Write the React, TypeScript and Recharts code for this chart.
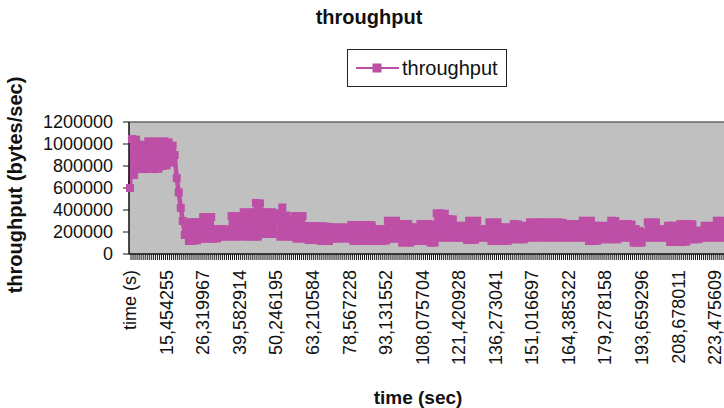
import React from 'react';
import { LineChart, Line, XAxis, YAxis, CartesianGrid, ReferenceLine } from 'recharts';

const TITLE = 'throughput';
const SERIES_NAME = 'throughput';
const X_TITLE = 'time (sec)';
const Y_TITLE = 'throughput (bytes/sec)';

// Labels shown on the category axis (Excel shows one label every 18 categories)
const LABEL_EVERY = 18;
const TICK_LABELS = [
  'time (s)', '15,454255', '26,319967', '39,582914', '50,246195', '63,210584',
  '78,567228', '93,131552', '108,075704', '121,420928', '136,273041', '151,016697',
  '164,385322', '179,278158', '193,659296', '208,678011', '223,475609',
];

const Y_TICKS = [0, 200000, 400000, 600000, 800000, 1000000, 1200000];

// throughput samples (bytes/sec)
const THROUGHPUT = [
  600000,
  1045000, 718000, 1040000, 772000,
  994000, 775000, 990000, 772000,
  1024000, 790000, 1020000, 772000, 1024000, 775000,
  1020000, 800000, 1024000, 805000, 1015000,
  830000, 985000,
  900000, 690000, 560000, 420000, 300000, 173000,
  273000,
  118000, 290000, 120000, 285000, 125000,
  290000, 139000,
  336000, 140000, 330000, 139000, 336000,
  139000, 227000, 142000, 225000,
  157000, 227000, 160000, 220000,
  157000, 345000, 160000, 340000, 157000, 345000, 165000,
  380000, 157000, 375000, 160000, 380000, 157000,
  464000, 157000, 460000, 182000,
  380000, 182000, 375000, 185000, 380000, 182000, 370000,
  354000, 157000, 423000, 160000, 350000,
  157000, 300000, 157000,
  345000, 139000, 340000, 142000, 345000,
  139000, 255000,
  127000, 250000, 130000, 255000, 127000, 252000,
  118000, 252000, 120000, 248000, 118000,
  243000, 139000, 240000, 142000, 243000, 139000, 238000, 145000, 243000, 139000,
  264000, 118000, 260000, 120000, 264000, 118000, 258000, 125000, 264000, 118000, 262000,
  118000, 227000, 120000, 225000, 118000, 227000, 122000,
  303000, 139000, 300000, 142000, 303000, 139000,
  273000, 103000, 270000, 105000, 273000, 103000,
  243000, 118000, 240000, 118000,
  273000, 118000, 270000, 118000,
  273000, 103000, 268000,
  103000, 370000,
  148000, 370000, 150000, 365000,
  148000, 318000, 150000, 315000, 148000,
  257000, 148000, 255000, 148000,
  257000, 127000,
  303000, 127000, 300000, 130000, 303000,
  148000, 227000, 150000, 225000, 148000,
  288000, 118000, 285000, 120000, 288000, 118000,
  243000, 118000, 240000, 120000, 243000,
  133000, 273000, 135000, 270000, 133000,
  257000, 134000, 255000,
  148000, 288000, 150000, 285000, 148000, 288000, 152000, 288000, 148000, 286000,
  150000, 288000, 148000, 285000, 150000, 288000, 148000, 284000, 150000,
  273000, 148000, 270000, 150000, 273000, 148000, 268000, 150000,
  303000, 148000,
  300000, 118000, 303000,
  118000, 257000, 120000,
  257000, 133000, 255000, 135000, 257000,
  133000, 303000, 135000, 300000, 133000,
  273000, 148000, 270000, 150000, 273000, 148000, 268000,
  103000,
  227000, 103000, 210000, 103000, 197000,
  148000, 288000, 150000, 285000, 148000, 288000,
  148000, 227000, 150000, 225000, 148000,
  257000, 109000,
  257000, 109000, 255000, 109000,
  273000, 109000, 270000, 112000,
  273000, 133000, 270000,
  133000, 212000, 135000, 212000,
  148000,
  257000, 148000, 255000, 150000, 257000,
  148000, 303000, 150000, 300000, 148000, 303000, 150000, 303000,
];

const data = THROUGHPUT.map((v, i) => ({ i, v }));

const COLOR = '#BE4FA6';
const FONT = '"Liberation Sans", Arial, sans-serif';
const TEXT = '#111';

const SquareDot = (props: any) => {
  const { cx, cy, index } = props;
  if (cx == null || cy == null) return null;
  return <rect key={`d${index}`} x={cx - 4} y={cy - 4} width={8} height={8} fill={COLOR} />;
};

const XTick = (props: any) => {
  const { x, y, payload } = props;
  const idx = payload.value as number;
  const lab = idx % LABEL_EVERY === 0 ? TICK_LABELS[idx / LABEL_EVERY] : undefined;
  return (
    <g>
      <line x1={x + 1} y1={y} x2={x + 1} y2={y + 6} stroke="#111" strokeWidth={1} />
      {lab !== undefined && (
        <text
          x={x}
          y={y + 16}
          transform={`rotate(-90, ${x}, ${y + 16})`}
          textAnchor="end"
          dy="0.35em"
          fontSize={18}
          fontFamily={FONT}
          fill={TEXT}
        >
          {lab}
        </text>
      )}
    </g>
  );
};

export default function App() {
  return (
    <div
      style={{
        position: 'absolute',
        left: 0,
        top: 0,
        width: 724,
        height: 408,
        overflow: 'hidden',
        background: '#fff',
        fontFamily: FONT,
      }}
    >
      <LineChart
        width={730}
        height={408}
        data={data}
        margin={{ top: 122, right: 0, bottom: 0, left: 0 }}
      >
        <CartesianGrid fill="#C0C0C0" horizontal={false} vertical={false} stroke="none" />
        <XAxis
          dataKey="i"
          type="category"
          interval={0}
          height={154}
          tickSize={0}
          tickMargin={0}
          tickLine={false}
          axisLine={{ stroke: '#111', strokeWidth: 1.5 }}
          tick={<XTick />}
          padding={{ left: 1, right: 1 }}
        />
        <YAxis
          type="number"
          domain={[0, 1200000]}
          ticks={Y_TICKS}
          width={129}
          tickSize={6}
          tickMargin={10}
          axisLine={{ stroke: '#111', strokeWidth: 1.5 }}
          tickLine={{ stroke: '#111' }}
          tick={{ fontSize: 18, fill: TEXT, fontFamily: FONT }}
          interval={0}
        />
        <ReferenceLine y={1200000} stroke="#666" strokeWidth={1.5} />
        <Line
          type="linear"
          dataKey="v"
          name={SERIES_NAME}
          stroke={COLOR}
          strokeWidth={4.5}
          strokeLinejoin="round"
          dot={<SquareDot />}
          activeDot={false}
          isAnimationActive={false}
        />
      </LineChart>

      {/* chart title */}
      <div
        style={{
          position: 'absolute', left: 269, top: 4, width: 200, textAlign: 'center',
          fontSize: 20, fontWeight: 'bold', color: TEXT, lineHeight: '26px',
        }}
      >
        {TITLE}
      </div>

      {/* legend */}
      <div
        style={{
          position: 'absolute', left: 347, top: 49, width: 160, height: 38,
          boxSizing: 'border-box', border: '1.5px solid #222', background: '#fff',
        }}
      >
        <svg width={56} height={36} style={{ position: 'absolute', left: 3, top: 0 }}>
          <line x1={5} y1={18} x2={48} y2={18} stroke={COLOR} strokeWidth={2} />
          <rect x={21.5} y={13.5} width={9} height={9} fill={COLOR} />
        </svg>
        <div
          style={{
            position: 'absolute', left: 54, top: 6, fontSize: 20, lineHeight: '24px', color: TEXT,
          }}
        >
          {SERIES_NAME}
        </div>
      </div>

      {/* y axis title */}
      <div
        style={{
          position: 'absolute', left: 15, top: 185, width: 0, height: 0,
        }}
      >
        <div
          style={{
            position: 'absolute', left: -150, top: -13, width: 300, textAlign: 'center',
            transform: 'rotate(-90deg)', fontSize: 20, fontWeight: 'bold', color: TEXT,
            lineHeight: '26px', whiteSpace: 'nowrap',
          }}
        >
          {Y_TITLE}
        </div>
      </div>

      {/* x axis title */}
      <div
        style={{
          position: 'absolute', left: 318, top: 385, width: 200, textAlign: 'center',
          fontSize: 19, fontWeight: 'bold', color: TEXT, lineHeight: '26px',
        }}
      >
        {X_TITLE}
      </div>
    </div>
  );
}
